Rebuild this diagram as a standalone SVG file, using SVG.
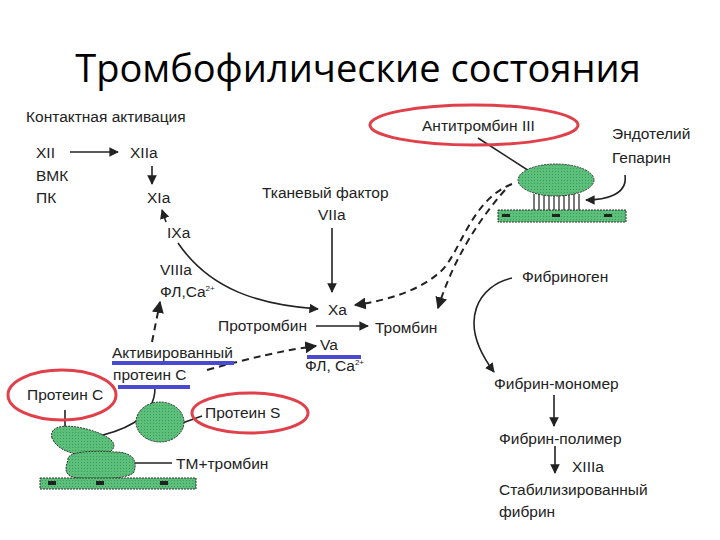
<svg xmlns="http://www.w3.org/2000/svg" width="720" height="540" viewBox="0 0 720 540">
<defs>
<marker id="ah" viewBox="0 0 10 10" refX="9" refY="5" markerWidth="6" markerHeight="6" orient="auto"><path d="M0,0 L10,5 L0,10 z" fill="#222"/></marker>
<pattern id="dots" width="3" height="3" patternUnits="userSpaceOnUse"><rect width="3" height="3" fill="#5cbf7a"/><rect width="1" height="1" fill="#3c9a5a"/></pattern>
</defs>
<style>
text{font-family:"Liberation Sans",Arial,sans-serif;font-size:15.5px;fill:#222}
.t{font-family:"Open Sans","Liberation Sans",sans-serif;font-size:38px;fill:#000}
.ln{fill:none;stroke:#222;stroke-width:1.6}
.da{fill:none;stroke:#222;stroke-width:2;stroke-dasharray:7,5}
.red{fill:none;stroke:#e0404a;stroke-width:3}
.blue{stroke:#4a4ad0;stroke-width:4}
.g{fill:url(#dots);stroke:#333;stroke-width:1;stroke-dasharray:2,1}
</style>
<rect width="720" height="540" fill="#fff"/>
<text class="t" x="358" y="82" text-anchor="middle">Тромбофилические состояния</text>

<g id="connectors">
<path class="ln" d="M70,152 H118" stroke-width="2.5" marker-end="url(#ah)"/>
<path class="ln" d="M152,166 V184" marker-end="url(#ah)"/>
<path class="ln" d="M166,222 L162,210" marker-end="url(#ah)"/>
<path class="ln" d="M178,243 C210,290 260,305 318,309" marker-end="url(#ah)"/>
<path class="ln" d="M332,228 V292" stroke-width="2" marker-end="url(#ah)"/>
<path class="ln" d="M316,326 H368" stroke-width="2.5" marker-end="url(#ah)"/>
<path class="da" d="M152,342 L160,302" marker-end="url(#ah)"/>
<path class="da" d="M207,370 C250,358 285,350 316,346" marker-end="url(#ah)"/>
<path class="da" d="M512,184 C470,200 460,255 440,272 C420,290 390,300 355,305" marker-end="url(#ah)"/>
<path class="da" d="M505,190 C470,230 450,270 438,308" marker-end="url(#ah)"/>
<path class="ln" d="M478,138 L540,178"/>
<path class="ln" d="M625,175 C628,195 605,200 586,200" marker-end="url(#ah)"/>
<path class="ln" d="M512,278 C480,285 455,320 494,372" marker-end="url(#ah)"/>
<path class="ln" d="M554,395 V426" stroke-width="2" marker-end="url(#ah)"/>
<path class="ln" d="M555,446 V473" stroke-width="2" marker-end="url(#ah)"/>
<path class="ln" d="M65,410 V432"/>
<path class="ln" d="M155,388 C155,420 120,432 90,438"/>
<path class="ln" d="M202,416 L174,426" marker-end="url(#ah)"/>
<path class="ln" d="M135,463 H172"/>
</g>

<g id="contact">
<text x="26" y="122">Контактная активация</text>
<text x="36" y="158">XII</text><text x="36" y="181">ВМК</text><text x="36" y="203">ПК</text>
<text x="130" y="158">XIIa</text><text x="147" y="203">XIa</text><text x="167" y="238">IXa</text>
<text x="160" y="275">VIIIa</text><text x="160" y="297">ФЛ,Ca<tspan font-size="8" dy="-6">2+</tspan></text>
</g>
<g id="tissue"><text x="262" y="198">Тканевый фактор</text><text x="318" y="220">VIIa</text></g>
<g id="xa"><text x="328" y="315">Xa</text></g>
<g id="prothrombin"><text x="218" y="331">Протромбин</text><text x="375" y="333">Тромбин</text></g>
<g id="va">
<line class="blue" x1="307" y1="357" x2="361" y2="357"/>
<text x="320" y="350">Va</text><text x="305" y="371">ФЛ, Ca<tspan font-size="8" dy="-6">2+</tspan></text>
</g>
<g id="apc">
<line class="blue" x1="112" y1="363" x2="234" y2="363"/>
<line class="blue" x1="118" y1="387" x2="190" y2="387"/>
<text x="112" y="358">Активированный</text><text x="113" y="380">протеин С</text>
</g>
<g id="antithrombin">
<ellipse class="red" cx="474" cy="125" rx="104" ry="20"/>
<text x="422" y="131">Антитромбин  III</text>
</g>
<g id="endothelium">
<text x="612" y="139">Эндотелий</text><text x="612" y="163">Гепарин</text>
<path d="M534,194 V210 M539,194 V210 M544,194 V210 M549,194 V210 M554,194 V210 M559,194 V210 M564,194 V210 M569,194 V210 M574,194 V210 M579,194 V210" stroke="#222" stroke-width="1.2"/>
<ellipse class="g" cx="556" cy="180" rx="38" ry="16"/>
<rect x="498" y="210" width="128" height="12" class="g" stroke-dasharray="none"/>
<rect x="502" y="214" width="8" height="3" fill="#222"/><rect x="552" y="214" width="8" height="3" fill="#222"/><rect x="604" y="214" width="8" height="3" fill="#222"/>
</g>
<g id="fibrin">
<text x="522" y="282">Фибриноген</text>
<text x="494" y="389">Фибрин-мономер</text>
<text x="499" y="444">Фибрин-полимер</text>
<text x="572" y="472">XIIIa</text>
<text x="499" y="495">Стабилизированный</text>
<text x="499" y="517">фибрин</text>
</g>
<g id="proteinC">
<path class="g" d="M52,438 C48,424 70,424 90,430 C110,436 120,444 110,452 C100,458 60,458 52,438 z"/>
<path class="g" d="M68,460 C66,452 90,450 115,452 C132,452 138,460 134,472 C130,480 80,481 70,476 C64,472 66,466 68,460 z"/>
<rect x="40" y="478" width="156" height="11" class="g" stroke-dasharray="none"/>
<rect x="48" y="481" width="8" height="4" fill="#222"/><rect x="96" y="481" width="8" height="4" fill="#222"/><rect x="160" y="481" width="8" height="4" fill="#222"/>
<ellipse class="red" cx="62" cy="395" rx="54" ry="25"/>
<text x="27" y="400">Протеин С</text>
</g>
<g id="proteinS">
<ellipse class="g" cx="160" cy="422" rx="24" ry="20"/>
<ellipse class="red" cx="250" cy="413" rx="58" ry="20"/>
<text x="205" y="418">Протеин  S</text>
</g>
<g id="tm"><text x="176" y="469">ТМ+тромбин</text></g>
</svg>
